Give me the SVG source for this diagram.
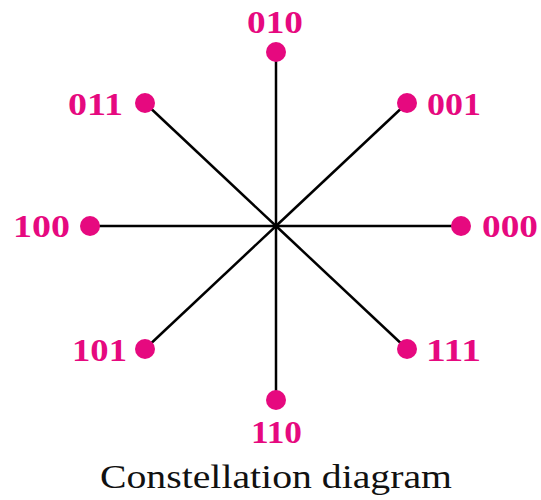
<svg xmlns="http://www.w3.org/2000/svg" width="541" height="500" viewBox="0 0 541 500">
<style>
.ln{stroke:#000;stroke-width:2.5;fill:none}
.dot{fill:#e6097f}
.lb{fill:#e6097f;font-family:"Liberation Serif","DejaVu Serif",serif;font-weight:bold;font-size:31px}
.cap{fill:#111;font-family:"Liberation Serif","DejaVu Serif",serif;font-size:33px}
</style>
<rect width="541" height="500" fill="#fff"/>
<g id="connectors">
<line class="ln" x1="276" y1="226" x2="276" y2="52"/>
<line class="ln" x1="276" y1="226" x2="276" y2="400"/>
<line class="ln" x1="276" y1="226" x2="90" y2="226"/>
<line class="ln" x1="276" y1="226" x2="461" y2="226"/>
<line class="ln" x1="276" y1="226" x2="145" y2="103"/>
<line class="ln" x1="276" y1="226" x2="407" y2="103"/>
<line class="ln" x1="276" y1="226" x2="145" y2="349"/>
<line class="ln" x1="276" y1="226" x2="407" y2="349"/>
</g>
<g id="n010"><circle class="dot" cx="276" cy="52" r="10"/><text class="lb" x="247" y="33" textLength="56" lengthAdjust="spacingAndGlyphs">010</text></g>
<g id="n110"><circle class="dot" cx="276" cy="400" r="10"/><text class="lb" x="251" y="443" textLength="51" lengthAdjust="spacingAndGlyphs">110</text></g>
<g id="n100"><circle class="dot" cx="90" cy="226" r="10"/><text class="lb" x="13" y="237" textLength="57" lengthAdjust="spacingAndGlyphs">100</text></g>
<g id="n000"><circle class="dot" cx="461" cy="226" r="10"/><text class="lb" x="482" y="237" textLength="56" lengthAdjust="spacingAndGlyphs">000</text></g>
<g id="n011"><circle class="dot" cx="145" cy="103" r="10"/><text class="lb" x="68" y="115" textLength="55" lengthAdjust="spacingAndGlyphs">011</text></g>
<g id="n001"><circle class="dot" cx="407" cy="103" r="10"/><text class="lb" x="427" y="115" textLength="54" lengthAdjust="spacingAndGlyphs">001</text></g>
<g id="n101"><circle class="dot" cx="145" cy="349" r="10"/><text class="lb" x="72" y="361" textLength="55" lengthAdjust="spacingAndGlyphs">101</text></g>
<g id="n111"><circle class="dot" cx="407" cy="349" r="10"/><text class="lb" x="426" y="361" textLength="55" lengthAdjust="spacingAndGlyphs">111</text></g>
<text class="cap" x="100" y="488" textLength="352" lengthAdjust="spacingAndGlyphs">Constellation diagram</text>
</svg>
